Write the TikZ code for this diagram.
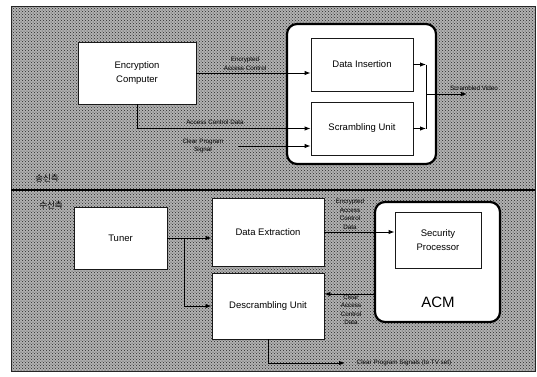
\documentclass[tikz,border=0pt]{standalone}
\usepackage{fontspec}
\setmainfont{Liberation Sans}
\newfontfamily\krfont{Noto Sans CJK KR}
\usetikzlibrary{patterns,arrows.meta,calc}
\begin{document}
\begin{tikzpicture}[x=1pt,y=-1pt,
  box/.style={draw=black!90,line width=0.9pt,fill=white,inner sep=2pt,
    align=center,font=\fontsize{9.5}{14}\selectfont},
  module/.style={draw=black,line width=2.2pt,rounded corners=10pt,fill=white},
  sig/.style={draw=black,line width=0.9pt},
  arr/.style={sig,-{Latex[length=6pt,width=4.5pt]}},
  lbl/.style={font=\fontsize{6.3}{8.5}\selectfont,align=center,inner sep=0.5pt,text=black},
  side/.style={font=\krfont\fontsize{8.5}{10}\selectfont,inner sep=0pt,text=black}]
\useasboundingbox (0,0) rectangle (537,376);
% dotted background panel with the divider between the two sides
\fill[white] (0,0) rectangle (537,376);
\fill[gray!60] (11,6) rectangle (535,371);
\fill[pattern=crosshatch dots,pattern color=black!85] (11,6) rectangle (535,371);
\draw[black!85,line width=0.8pt] (11,6) rectangle (535,371);
\draw[black,line width=1.2pt] (11,190) -- (535,190);
\node[side] (tx) at (47,178) {송신측};
\node[side] (rx) at (51,205) {수신측};

% transmitter side
\node[module,minimum width=149pt,minimum height=140pt] (TXM) at (361.5,94) {};
\node[box,minimum width=118pt,minimum height=62pt] (EC) at (137,73) {Encryption\\Computer};
\node[box,minimum width=102pt,minimum height=53pt] (DI) at (362,64.5) {Data Insertion};
\node[box,minimum width=102pt,minimum height=53pt] (SU) at (362,128.5) {Scrambling Unit};
\coordinate (cps) at (238,146);
\coordinate (jn) at (426,94);
\coordinate (sv) at (467,94);

\draw[arr] (EC.east) -- (EC.east -| DI.west);
\node[lbl,anchor=south] (l1) at (245,71) {Encrypted\\Access Control};
\draw[arr] (EC.south) |- (SU.west);
\node[lbl,anchor=south] (l2) at (215,125) {Access Control Data};
\draw[arr] (cps) -- (cps -| SU.west);
\node[lbl] (l3) at (203,146) {Clear Program\\Signal};
\draw[arr] (DI.east) -- (DI.east -| jn);
\draw[arr] (SU.east) -- (SU.east -| jn);
\draw[sig] (DI.east -| jn) -- (SU.east -| jn);
\draw[arr] (jn) -- (sv);
\node[lbl,anchor=south] (l4) at (474,91) {Scrambled Video};

% receiver side
\node[module,minimum width=125pt,minimum height=120pt] (ACM) at (437.5,262) {};
\node[font=\fontsize{15}{18}\selectfont] (acmt) at (438,302) {ACM};
\node[box,minimum width=86pt,minimum height=56pt] (SP) at (438,240) {Security\\Processor};
\node[box,minimum width=93pt,minimum height=62pt] (TU) at (120.5,238) {Tuner};
\node[box,minimum width=112pt,minimum height=68pt] (DE) at (268,232) {Data Extraction};
\node[box,minimum width=112pt,minimum height=66pt] (DU) at (268,306) {Descrambling Unit};
\coordinate (br) at (184,238);
\coordinate (cacd) at (375,294);
\coordinate (tv) at (345,363);

\draw[arr] (TU.east) -- (TU.east -| DE.west);
\draw[arr] (br) |- (DU.west);
\draw[arr] (DE.east) -- (DE.east -| SP.west);
\node[lbl,anchor=south] (l5) at (350,230) {Encrypted\\Access\\Control\\Data};
\draw[arr] (cacd) -- (cacd -| DU.east);
\node[lbl,anchor=north] (l6) at (351,294) {Clear\\Access\\Control\\Data};
\draw[arr] (DU.south) |- (tv);
\node[lbl,anchor=west] (l7) at (356,363) {Clear Program Signals (to TV set)};
\end{tikzpicture}
\end{document}
